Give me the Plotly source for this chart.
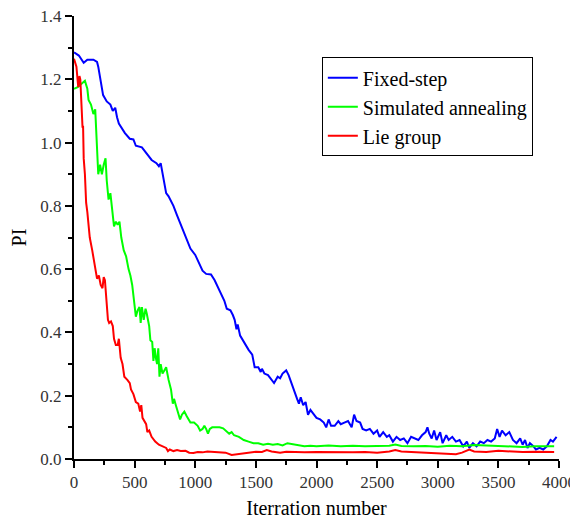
import plotly.graph_objects as go

fixed_x = [0, 40, 80, 110, 160, 190, 200, 220, 240, 270, 300, 320, 340, 355, 370, 420, 460, 490, 510, 560, 600, 640, 680, 700, 715, 730, 750, 760, 780, 820, 850, 880, 900, 930, 960, 1000, 1040, 1060, 1090, 1130, 1160, 1200, 1240, 1260, 1290, 1310, 1325, 1340, 1350, 1370, 1400, 1440, 1470, 1490, 1520, 1540, 1550, 1570, 1600, 1630, 1650, 1680, 1700, 1720, 1750, 1770, 1800, 1820, 1840, 1855, 1870, 1890, 1910, 1930, 1950, 1970, 2000, 2030, 2060, 2080, 2100, 2120, 2150, 2180, 2200, 2230, 2260, 2290, 2310, 2330, 2360, 2380, 2410, 2440, 2470, 2500, 2520, 2550, 2580, 2600, 2630, 2660, 2690, 2720, 2750, 2780, 2810, 2840, 2870, 2900, 2915, 2930, 2950, 2970, 2990, 3020, 3040, 3070, 3090, 3120, 3150, 3180, 3210, 3240, 3260, 3290, 3320, 3350, 3380, 3410, 3440, 3470, 3490, 3510, 3530, 3560, 3590, 3620, 3650, 3680, 3700, 3720, 3740, 3760, 3790, 3810, 3840, 3870, 3900, 3930, 3950, 3980]
fixed_y = [1.285, 1.275, 1.252, 1.262, 1.262, 1.255, 1.24, 1.2, 1.15, 1.13, 1.12, 1.10, 1.11, 1.08, 1.06, 1.03, 1.012, 1.01, 0.99, 0.985, 0.965, 0.945, 0.935, 0.925, 0.935, 0.905, 0.87, 0.84, 0.83, 0.80, 0.77, 0.74, 0.72, 0.69, 0.665, 0.645, 0.615, 0.595, 0.585, 0.583, 0.565, 0.535, 0.50, 0.475, 0.47, 0.455, 0.44, 0.41, 0.425, 0.39, 0.37, 0.345, 0.33, 0.29, 0.29, 0.275, 0.285, 0.27, 0.265, 0.25, 0.24, 0.26, 0.255, 0.27, 0.28, 0.265, 0.23, 0.21, 0.19, 0.175, 0.195, 0.17, 0.18, 0.14, 0.155, 0.145, 0.13, 0.125, 0.115, 0.10, 0.125, 0.105, 0.105, 0.12, 0.11, 0.115, 0.12, 0.10, 0.14, 0.12, 0.115, 0.095, 0.09, 0.095, 0.08, 0.09, 0.07, 0.085, 0.07, 0.075, 0.055, 0.07, 0.06, 0.065, 0.05, 0.07, 0.065, 0.06, 0.075, 0.085, 0.10, 0.08, 0.065, 0.09, 0.06, 0.085, 0.05, 0.075, 0.06, 0.07, 0.055, 0.06, 0.04, 0.055, 0.035, 0.05, 0.04, 0.055, 0.05, 0.06, 0.055, 0.065, 0.095, 0.07, 0.09, 0.075, 0.085, 0.06, 0.05, 0.065, 0.045, 0.06, 0.035, 0.05, 0.04, 0.03, 0.035, 0.03, 0.04, 0.06, 0.055, 0.07]

sa_x = [0, 30, 60, 90, 110, 120, 140, 160, 175, 185, 195, 200, 215, 230, 245, 260, 270, 285, 300, 315, 330, 345, 360, 375, 390, 410, 430, 450, 465, 480, 495, 510, 525, 540, 550, 560, 575, 590, 600, 620, 630, 645, 655, 665, 675, 685, 695, 705, 715, 730, 745, 760, 780, 800, 815, 825, 840, 860, 875, 890, 910, 930, 960, 990, 1020, 1040, 1060, 1075, 1090, 1105, 1120, 1140, 1170, 1200, 1230, 1250, 1280, 1300, 1320, 1360, 1400, 1440, 1480, 1520, 1560, 1600, 1640, 1680, 1720, 1760, 1800, 1850, 1900, 1950, 2000, 2100, 2200, 2300, 2400, 2500, 2600, 2650, 2700, 2800, 2900, 3000, 3100, 3200, 3300, 3400, 3500, 3600, 3700, 3800, 3900, 3960]
sa_y = [1.17, 1.175, 1.185, 1.195, 1.17, 1.135, 1.12, 1.09, 1.105, 1.03, 0.98, 0.90, 0.93, 0.9, 0.93, 0.95, 0.88, 0.82, 0.84, 0.78, 0.735, 0.75, 0.74, 0.75, 0.70, 0.66, 0.64, 0.60, 0.58, 0.55, 0.49, 0.45, 0.47, 0.48, 0.43, 0.48, 0.44, 0.475, 0.46, 0.42, 0.375, 0.37, 0.31, 0.35, 0.32, 0.30, 0.35, 0.26, 0.30, 0.27, 0.28, 0.29, 0.25, 0.22, 0.175, 0.19, 0.17, 0.145, 0.125, 0.14, 0.15, 0.135, 0.115, 0.115, 0.105, 0.09, 0.095, 0.105, 0.095, 0.08, 0.095, 0.1, 0.1, 0.1, 0.097, 0.09, 0.08, 0.085, 0.075, 0.07, 0.06, 0.055, 0.05, 0.05, 0.045, 0.048, 0.045, 0.047, 0.043, 0.05, 0.047, 0.042, 0.04, 0.042, 0.04, 0.043, 0.04, 0.042, 0.04, 0.041, 0.042, 0.046, 0.041, 0.04, 0.041, 0.039, 0.042, 0.04, 0.044, 0.043, 0.041, 0.04, 0.038, 0.04, 0.041, 0.04]

lie_x = [0, 20, 35, 45, 52, 60, 65, 70, 75, 80, 90, 95, 100, 110, 120, 130, 150, 165, 180, 190, 205, 220, 235, 245, 255, 265, 280, 290, 305, 320, 330, 345, 360, 370, 385, 400, 415, 440, 460, 470, 490, 510, 530, 545, 555, 565, 580, 595, 605, 620, 640, 670, 700, 730, 760, 775, 790, 820, 850, 880, 920, 950, 985, 1020, 1060, 1100, 1150, 1200, 1250, 1300, 1340, 1400, 1450, 1500, 1550, 1590, 1630, 1700, 1750, 1800, 1900, 2000, 2100, 2200, 2300, 2400, 2500, 2600, 2650, 2700, 2800, 2900, 3000, 3100, 3150, 3200, 3260, 3300, 3400, 3500, 3600, 3700, 3800, 3900, 3960]
lie_y = [1.265, 1.24, 1.175, 1.21, 1.20, 1.12, 1.10, 1.05, 1.05, 0.95, 0.90, 0.85, 0.81, 0.78, 0.73, 0.70, 0.66, 0.63, 0.59, 0.57, 0.58, 0.55, 0.54, 0.575, 0.565, 0.50, 0.44, 0.43, 0.435, 0.42, 0.38, 0.36, 0.36, 0.38, 0.32, 0.30, 0.26, 0.25, 0.24, 0.22, 0.205, 0.18, 0.175, 0.15, 0.17, 0.13, 0.12, 0.11, 0.085, 0.09, 0.07, 0.055, 0.045, 0.04, 0.035, 0.025, 0.03, 0.025, 0.028, 0.025, 0.026, 0.02, 0.019, 0.022, 0.021, 0.024, 0.023, 0.022, 0.02, 0.013, 0.015, 0.02, 0.022, 0.023, 0.022, 0.028, 0.024, 0.02, 0.023, 0.022, 0.021, 0.022, 0.021, 0.02, 0.021, 0.022, 0.02, 0.024, 0.028, 0.024, 0.022, 0.022, 0.02, 0.016, 0.015, 0.02, 0.03, 0.024, 0.022, 0.026, 0.024, 0.022, 0.023, 0.022, 0.022]

names = ["Fixed-step", "Simulated annealing", "Lie group"]
colors = ["#0000ff", "#00ff00", "#ff0000"]

x_ticks = [0, 500, 1000, 1500, 2000, 2500, 3000, 3500, 4000]
y_ticks = [0.0, 0.2, 0.4, 0.6, 0.8, 1.0, 1.2, 1.4]
y_tick_labels = ["0.0", "0.2", "0.4", "0.6", "0.8", "1.0", "1.2", "1.4"]

FONT = "Liberation Serif"

fig = go.Figure()
for xs, ys, nm, c in zip([fixed_x, sa_x, lie_x], [fixed_y, sa_y, lie_y], names, colors):
    fig.add_trace(go.Scatter(x=xs, y=ys, mode="lines", name=nm,
                             line=dict(color=c, width=2)))

# page body has an 8px margin, so the figure is sized 8px smaller
fig.update_layout(
    width=570, height=519,
    margin=dict(l=66, r=19, t=8, b=68),
    plot_bgcolor="white", paper_bgcolor="white",
    font=dict(family=FONT, color="black"),
    showlegend=True,
    legend=dict(x=0.511, y=0.907, xanchor="left", yanchor="top",
                bordercolor="black", borderwidth=1, bgcolor="white",
                font=dict(family=FONT, size=20, color="black"),
                tracegroupgap=0, itemwidth=30),
)
fig.update_xaxes(range=[0, 4000], tickvals=x_ticks,
                 automargin=False, ticklabeloverflow="allow",
                 showline=True, linecolor="black", linewidth=2, ticks="outside",
                 ticklen=7, tickwidth=1.5, tickcolor="black", showgrid=False, zeroline=False,
                 minor=dict(ticks="outside", ticklen=4, tickcolor="black", dtick=250, tick0=0, showgrid=False),
                 tickfont=dict(family=FONT, size=17, color="#333333"),
                 title=dict(text="Iterration number", font=dict(family=FONT, size=20, color="black"), standoff=10))
fig.update_yaxes(range=[0, 1.4], tickvals=y_ticks, ticktext=y_tick_labels,
                 automargin=False, ticklabeloverflow="allow",
                 showline=True, linecolor="black", linewidth=2, ticks="outside",
                 ticklen=7, tickwidth=1.5, tickcolor="black", showgrid=False, zeroline=False,
                 minor=dict(ticks="outside", ticklen=4, tickcolor="black", dtick=0.1, tick0=0, showgrid=False),
                 tickfont=dict(family=FONT, size=17, color="#333333"),
                 title=dict(text="PI", font=dict(family=FONT, size=20, color="black"), standoff=10))

fig.write_html("out.html")
